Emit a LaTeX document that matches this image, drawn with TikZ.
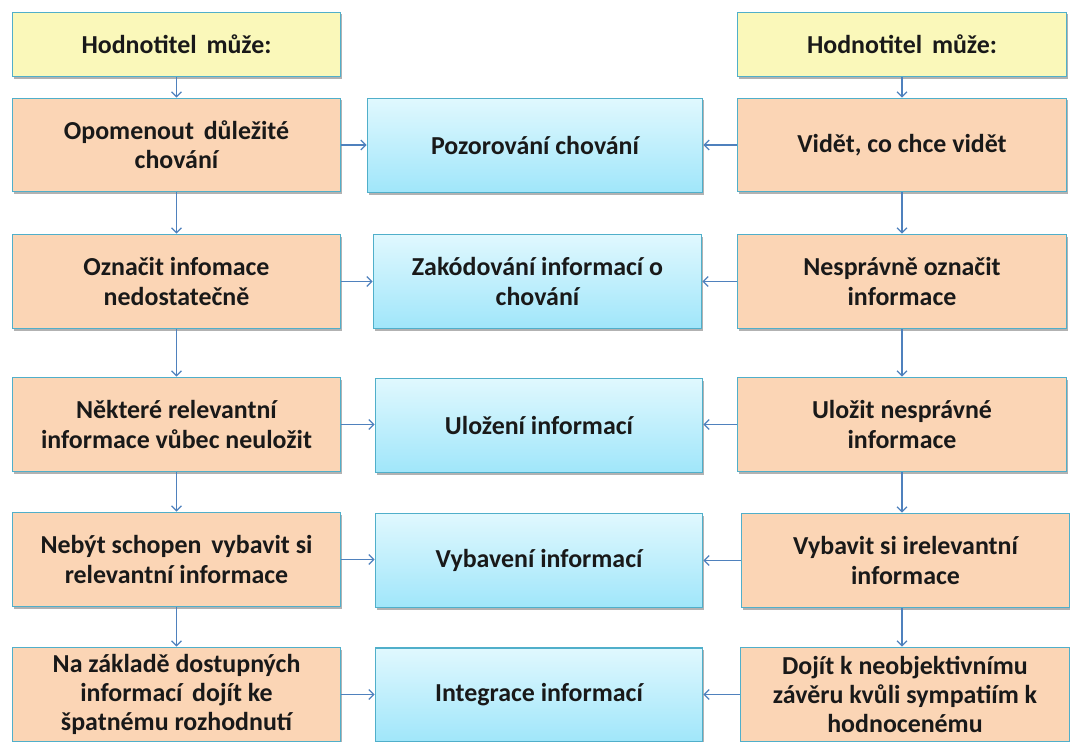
\documentclass[tikz,border=0pt]{standalone}
\usepackage{fontspec}
\setmainfont{Carlito}
\usetikzlibrary{arrows.meta,shadows}
\definecolor{bordc}{RGB}{80,175,202}
\definecolor{yelf}{RGB}{250,248,186}
\definecolor{peachf}{RGB}{251,213,181}
\definecolor{bluetop}{RGB}{224,248,254}
\definecolor{bluebot}{RGB}{160,230,250}
\definecolor{arrc}{RGB}{79,129,189}
\definecolor{txtc}{RGB}{25,25,25}
\tikzset{
  box/.style={draw=bordc, line width=1.6bp, rectangle, align=center, inner sep=2bp,
    text=txtc, font=\bfseries\fontsize{26}{29.5}\selectfont,
    drop shadow={shadow xshift=1.5bp, shadow yshift=-2bp, opacity=0.3, fill=black}},
  yelbox/.style={box, fill=yelf},
  peachbox/.style={box, fill=peachf},
  bluebox/.style={box, top color=bluetop, bottom color=bluebot},
  arr/.style={draw=arrc, line width=1.3bp, -{Straight Barb[length=5bp,width=10bp,line width=1.3bp]}}
}
\begin{document}
\begin{tikzpicture}[x=1bp,y=-1bp]
\useasboundingbox (0,0) rectangle (1070,742);
% left column
\node[yelbox, minimum width=328bp, minimum height=64bp] (l0) at (176.5,44.5) {Hodnotitel\hspace{0.15em} může:};
\node[peachbox, minimum width=328bp, minimum height=93bp] (l1) at (176.5,145) {Opomenout\hspace{0.15em} důležité\\chování};
\node[peachbox, minimum width=328bp, minimum height=94bp] (l2) at (176.5,281.5) {Označit infomace\\nedostatečně};
\node[peachbox, minimum width=328bp, minimum height=94bp] (l3) at (176.5,424.5) {Některé relevantní\\informace vůbec neuložit};
\node[peachbox, minimum width=328bp, minimum height=94bp] (l4) at (176.5,559.5) {Nebýt schopen\hspace{0.15em} vybavit si\\relevantní informace};
\node[peachbox, minimum width=328bp, minimum height=94bp] (l5) at (176.5,694.5) {Na základě dostupných\\informací\hspace{0.15em} dojít ke\\špatnému rozhodnutí};
% middle column
\node[bluebox, minimum width=335bp, minimum height=94bp] (m1) at (535,145.5) {Pozorování chování};
\node[bluebox, minimum width=328bp, minimum height=94bp] (m2) at (537.5,281.5) {Zakódování informací o\\chování};
\node[bluebox, minimum width=327bp, minimum height=94bp] (m3) at (539,425.5) {Uložení informací};
\node[bluebox, minimum width=327bp, minimum height=94bp] (m4) at (539,560.5) {Vybavení informací};
\node[bluebox, minimum width=327bp, minimum height=94bp] (m5) at (539,695) {Integrace informací};
% right column
\node[yelbox, minimum width=329bp, minimum height=64bp] (r0) at (902,44.5) {Hodnotitel\hspace{0.15em} může:};
\node[peachbox, minimum width=329bp, minimum height=93bp] (r1) at (902,145) {Vidět, co chce vidět};
\node[peachbox, minimum width=329bp, minimum height=94bp] (r2) at (902,281.5) {Nesprávně označit\\informace};
\node[peachbox, minimum width=329bp, minimum height=94bp] (r3) at (902,424.5) {Uložit nesprávné\\informace};
\node[peachbox, minimum width=328bp, minimum height=94bp] (r4) at (905.5,560.5) {Vybavit si irelevantní\\informace};
\node[peachbox, minimum width=329bp, minimum height=94bp] (r5) at (905,694.5) {Dojít k neobjektivnímu\\závěru kvůli sympatiím k\\hodnocenému};
% vertical arrows
\draw[arr] (l0.south) -- (l0.south |- l1.north);
\draw[arr] (l1.south) -- (l1.south |- l2.north);
\draw[arr] (l2.south) -- (l2.south |- l3.north);
\draw[arr] (l3.south) -- (l3.south |- l4.north);
\draw[arr] (l4.south) -- (l4.south |- l5.north);
\draw[arr] (r0.south) -- (r0.south |- r1.north);
\draw[arr] (r1.south) -- (r1.south |- r2.north);
\draw[arr] (r2.south) -- (r2.south |- r3.north);
\draw[arr] (r3.south) -- (r3.south |- r4.north);
\draw[arr] (r3.south |- r4.south) -- (r3.south |- r5.north);
% horizontal arrows
\draw[arr] (l1.east) -- (l1.east -| m1.west);
\draw[arr] (l2.east) -- (l2.east -| m2.west);
\draw[arr] (l3.east) -- (l3.east -| m3.west);
\draw[arr] (l4.east) -- (l4.east -| m4.west);
\draw[arr] (l5.east) -- (l5.east -| m5.west);
\draw[arr] (r1.west) -- (r1.west -| m1.east);
\draw[arr] (r2.west) -- (r2.west -| m2.east);
\draw[arr] (r3.west) -- (r3.west -| m3.east);
\draw[arr] (r4.west) -- (r4.west -| m4.east);
\draw[arr] (r5.west) -- (r5.west -| m5.east);
\end{tikzpicture}
\end{document}
